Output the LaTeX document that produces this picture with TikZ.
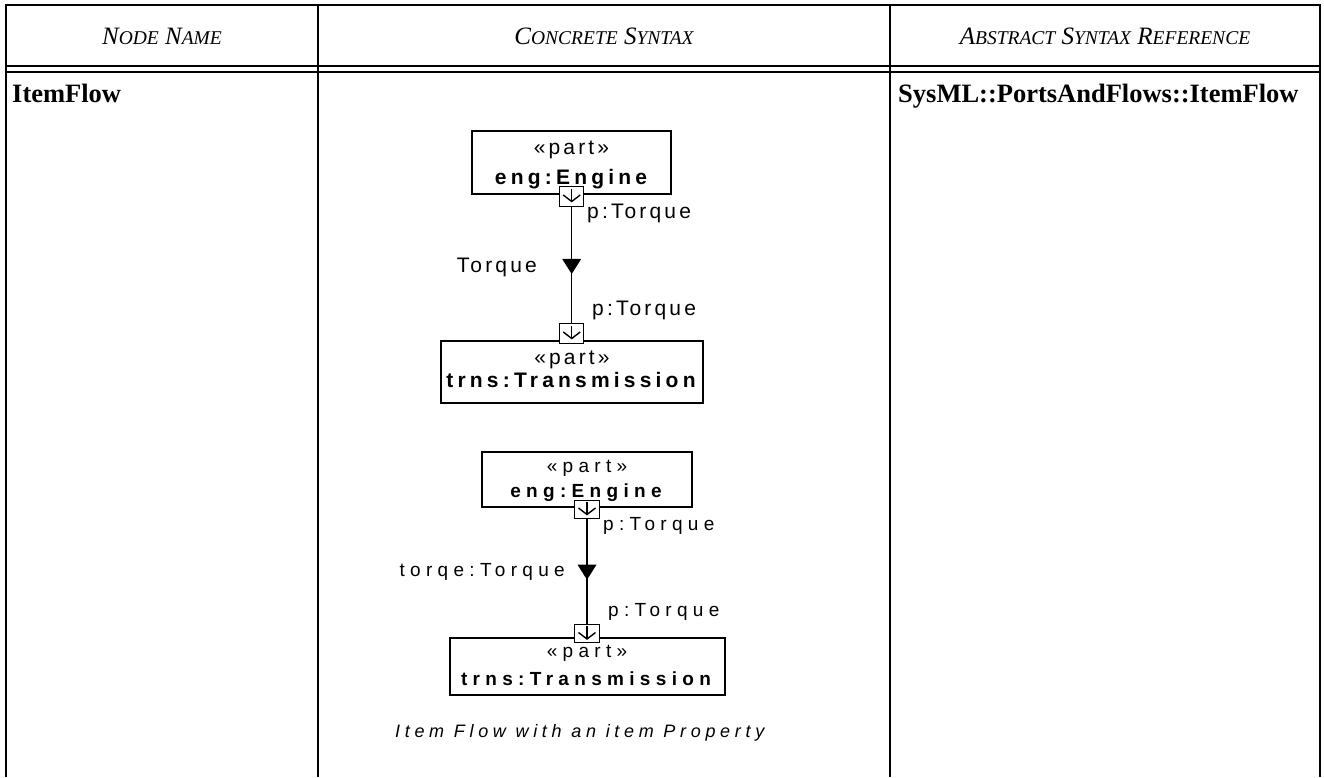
\documentclass[tikz,border=0pt]{standalone}
\usepackage{fontspec}
\setmainfont{Liberation Serif}
\newfontfamily\dA[LetterSpace=15]{Liberation Sans}
\newfontfamily\dAb[LetterSpace=20]{Liberation Sans}
\newfontfamily\dB[LetterSpace=28]{Liberation Sans}
\newfontfamily\dC[LetterSpace=26]{Liberation Sans}
\newcommand\hdrfont{\fontsize{25}{25}\selectfont\itshape}
\newcommand\hsc[1]{{\fontsize{19.5}{19.5}\selectfont #1}}
\newcommand\portarrow[1]{%
  \draw[parr] ([shift={(0,-7.5)}]#1.center) -- ([shift={(0,5.5)}]#1.center);
  \draw[parr] ([shift={(-8.5,-1)}]#1.center) -- ([shift={(0,5.5)}]#1.center) -- ([shift={(8.5,-1)}]#1.center);}
\newcommand\flowtri[1]{%
  \fill ([shift={(-9.5,-7.5)}]#1) -- ([shift={(9.5,-7.5)}]#1) -- ([shift={(0,7.5)}]#1) -- cycle;}
\begin{document}
\begin{tikzpicture}[x=1pt,y=-1pt,
  tline/.style={line width=2.2pt},
  hdr/.style={font=\hdrfont, inner sep=0pt, anchor=base},
  body/.style={font=\fontsize{26.5}{26.5}\selectfont\bfseries, inner sep=0pt, anchor=base west},
  pbox/.style={draw, line width=1.6pt, fill=white, inner sep=0pt},
  portbox/.style={draw, line width=0.9pt, fill=white, inner sep=0pt},
  parr/.style={line width=1.4pt},
  flow/.style={line width=1.3pt},
  ta/.style={font=\fontsize{21}{21}\dA, inner sep=0pt, anchor=base},
  tab/.style={font=\fontsize{21}{21}\dAb\bfseries, inner sep=0pt, anchor=base},
  tb/.style={font=\fontsize{19}{19}\dB, inner sep=0pt, anchor=base},
  tbb/.style={font=\fontsize{19}{19}\dB\bfseries, inner sep=0pt, anchor=base},
  capt/.style={font=\fontsize{18}{18}\dC\itshape, inner sep=0pt, anchor=base west}]
\useasboundingbox (0,0) rectangle (1324,777);
\fill[white] (0,0) rectangle (1324,777);
% table
\draw[tline] (6,777) -- (6,5) -- (1320,5) -- (1320,777);
\draw[tline] (6,66) -- (1320,66);
\draw[tline] (6,72) -- (1320,72);
\draw[tline] (318,5) -- (318,777);
\draw[tline] (890,5) -- (890,777);
\node[hdr] (h1) at (162,44) {N\hsc{ODE} N\hsc{AME}};
\node[hdr] (h2) at (604,44) {C\hsc{ONCRETE} S\hsc{YNTAX}};
\node[hdr] (h3) at (1105,44) {A\hsc{BSTRACT} S\hsc{YNTAX} R\hsc{EFERENCE}};
\node[body] (nm) at (12,102) {ItemFlow};
\node[body] (ref) at (898,102) {SysML::PortsAndFlows::ItemFlow};
% diagram 1
\node[pbox, minimum width=199pt, minimum height=63pt] (eng1) at (571.5,162.5) {};
\node[pbox, minimum width=262pt, minimum height=62pt] (trns1) at (572,372) {};
\node[ta] (st1) at (571.5,154) {«part»};
\node[tab] (en1) at (571,184) {eng:Engine};
\node[ta] (st2) at (572,364) {«part»};
\node[tab] (tn1) at (571,387) {trns:Transmission};
\node[portbox, minimum width=24pt, minimum height=20pt] (p1) at (571.7,196) {};
\node[portbox, minimum width=24pt, minimum height=20pt] (p2) at (571.7,333) {};
\portarrow{p1}
\portarrow{p2}
\draw[flow] (p1.south) -- coordinate[pos=0.517] (m1) (p2.north);
\flowtri{m1}
\node[ta, anchor=base west] (l1) at (587,218) {p:Torque};
\node[ta, anchor=base east] (l2) at (537,272) {Torque};
\node[ta, anchor=base west] (l3) at (592,315) {p:Torque};
% diagram 2
\node[pbox, minimum width=210pt, minimum height=55pt] (eng2) at (587,479.5) {};
\node[pbox, minimum width=275pt, minimum height=57pt] (trns2) at (587.5,666.5) {};
\node[tb] (st3) at (587,472) {«part»};
\node[tbb] (en2) at (586,497) {eng:Engine};
\node[tb] (st4) at (587,657) {«part»};
\node[tbb] (tn2) at (586,685) {trns:Transmission};
\node[portbox, minimum width=25pt, minimum height=18pt] (p3) at (587,509) {};
\node[portbox, minimum width=25pt, minimum height=18pt] (p4) at (587,633.5) {};
\portarrow{p3}
\portarrow{p4}
\draw[flow] (p3.south) -- coordinate[pos=0.509] (m2) (p4.north);
\flowtri{m2}
\node[tb, anchor=base west] (l4) at (603,530) {p:Torque};
\node[tb, anchor=base east] (l5) at (565,576) {torqe:Torque};
\node[tb, anchor=base west] (l6) at (608,616) {p:Torque};
\node[capt] (cap) at (395,737) {Item Flow with an item Property};
\end{tikzpicture}
\end{document}
